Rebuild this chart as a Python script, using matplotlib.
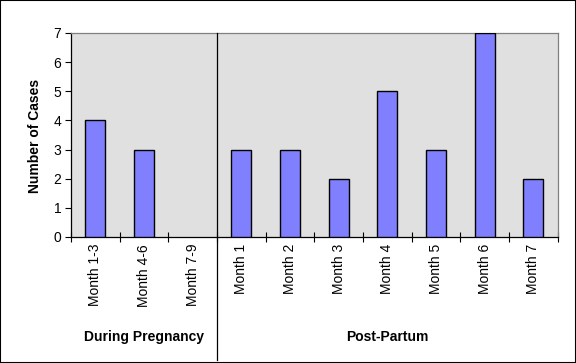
#! /usr/bin/env python3
import matplotlib
matplotlib.use('Agg')
import matplotlib.pyplot as plt
from matplotlib.patches import Rectangle

categories = ['Month 1-3', 'Month 4-6', 'Month 7-9',
              'Month 1', 'Month 2', 'Month 3', 'Month 4', 'Month 5', 'Month 6', 'Month 7']
cases = [4, 3, 0, 3, 3, 2, 5, 3, 7, 2]
groups = ['During Pregnancy', 'Post-Partum']
group_sizes = [3, 7]

plt.rcParams['font.family'] = ['Liberation Sans', 'DejaVu Sans']
plt.rcParams['font.size'] = 10

W, H = 576, 363
fig = plt.figure(figsize=(W / 100, H / 100), dpi=100)
# plot area in pixels: left 71, right 557.6, top 33, bottom 237
ax = fig.add_axes([71 / W, 1 - 237 / H, 486.6 / W, 204 / H])
ax.set_facecolor('#E0E0E0')

x = list(range(len(categories)))
# empty bars get no outline, as in the original
edges = ['black' if v > 0 else 'none' for v in cases]
ax.bar(x, cases, width=0.41, color='#8080FF', edgecolor=edges, linewidth=1.0, zorder=3)

ax.set_xlim(-0.5, len(categories) - 0.5)
ax.set_ylim(0, 7)
ax.set_yticks(range(0, 8))

# boundary ticks (major) and labels at centres (minor)
ax.set_xticks([i - 0.5 for i in range(len(categories) + 1)])
ax.set_xticklabels([])
ax.set_xticks(x, minor=True)
ax.set_xticklabels(categories, minor=True, rotation=90, va='top', ha='center')
ax.tick_params(axis='x', which='major', direction='inout', length=7, width=0.8, color='black')
ax.tick_params(axis='x', which='minor', length=0, pad=5)
ax.tick_params(axis='y', direction='out', length=4, width=0.8, pad=3)

for s in ['left', 'bottom']:
    ax.spines[s].set_color('black')
    ax.spines[s].set_linewidth(0.9)
for s in ['top', 'right']:
    ax.spines[s].set_color('#808080')
    ax.spines[s].set_linewidth(0.9)

# group separator and group labels
trans = ax.get_xaxis_transform()
start = 0
for i, (g, n) in enumerate(zip(groups, group_sizes)):
    mid = start + (n - 1) / 2
    ax.text(mid, -0.49, g, transform=trans, ha='center', va='center',
            fontweight='bold', fontsize=10)
    start += n
    if i < len(groups) - 1:
        ax.plot([start - 0.5, start - 0.5], [1, -0.605], transform=trans,
                color='black', linewidth=0.9, clip_on=False, zorder=4)

fig.text(35 / W, 1 - 136 / H, 'Number of Cases', rotation=90, ha='center', va='center',
         fontweight='bold', fontsize=10)

fig.patches.append(Rectangle((0, 0), 1, 1, transform=fig.transFigure, fill=False,
                             edgecolor='black', linewidth=1.5))

fig.savefig('out.png', dpi=100)
